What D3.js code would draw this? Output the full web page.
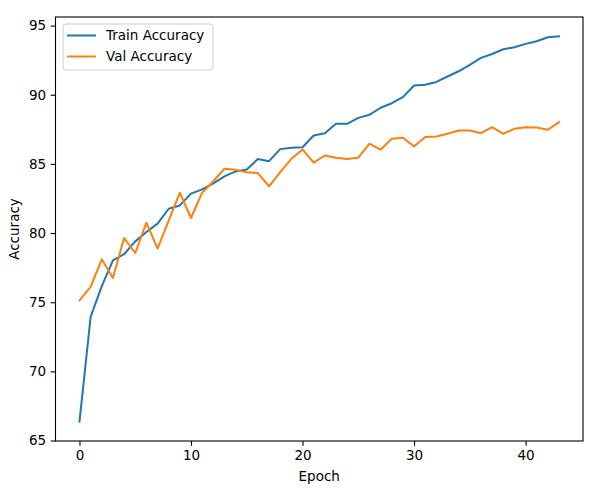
<!DOCTYPE html>
<html>
<head>
<meta charset="utf-8">
<script src="https://cdn.jsdelivr.net/npm/d3@7"></script>
<style>
  body { margin: 0; background: #fff; }
  text { font-family: "DejaVu Sans", sans-serif; fill: #000; }
</style>
</head>
<body>
<div id="chart"></div>
<script>
// values
var epochs = d3.range(0, 44);
var trainAcc = [66.36, 73.94, 76.16, 78.03, 78.47, 79.4, 80.08, 80.68, 81.76, 82.0,
  82.85, 83.16, 83.6, 84.1, 84.46, 84.6, 85.35, 85.2, 86.07, 86.17,
  86.21, 87.06, 87.22, 87.9, 87.9, 88.33, 88.55, 89.06, 89.39, 89.83,
  90.67, 90.72, 90.93, 91.32, 91.7, 92.16, 92.67, 92.95, 93.29, 93.44,
  93.68, 93.87, 94.16, 94.23];
var valAcc = [75.14, 76.11, 78.1, 76.75, 79.64, 78.56, 80.75, 78.88, 80.9, 82.92,
  81.09, 82.92, 83.75, 84.65, 84.58, 84.39, 84.34, 83.38, 84.41, 85.37,
  86.05, 85.09, 85.61, 85.45, 85.35, 85.45, 86.46, 86.03, 86.82, 86.89,
  86.26, 86.94, 86.99, 87.18, 87.42, 87.42, 87.22, 87.66, 87.18, 87.54,
  87.66, 87.64, 87.47, 88.02];
var xTicks = [0, 10, 20, 30, 40];
var yTicks = [65, 70, 75, 80, 85, 90, 95];
var seriesNames = ["Train Accuracy", "Val Accuracy"];
var seriesColors = ["#1f77b4", "#ff7f0e"];

var W = 592, H = 497;
var margin = {top: 17, right: 9, bottom: 56, left: 55.5},
    width = W - margin.left - margin.right,
    height = H - margin.top - margin.bottom;

var allVals = trainAcc.concat(valAcc);
var yMin = d3.min(allVals), yMax = d3.max(allVals);
var yPad = (yMax - yMin) * 0.05;
var xPad = (epochs[epochs.length - 1] - epochs[0]) * 0.05;

var x = d3.scaleLinear()
    .domain([epochs[0] - xPad, epochs[epochs.length - 1] + xPad])
    .range([0, width]);
var y = d3.scaleLinear()
    .domain([yMin - yPad, yMax + yPad])
    .range([height, 0]);

var svg = d3.select("#chart").append("svg")
    .attr("width", W)
    .attr("height", H)
  .append("g")
    .attr("transform", "translate(" + margin.left + "," + margin.top + ")");

// lines
var series = [trainAcc, valAcc];
series.forEach(function(vals, i) {
  var line = d3.line()
      .x(function(d, j) { return x(epochs[j]); })
      .y(function(d) { return y(d); });
  svg.append("path")
      .datum(vals)
      .attr("fill", "none")
      .attr("stroke", seriesColors[i])
      .attr("stroke-width", 2)
      .attr("stroke-linejoin", "round")
      .attr("stroke-linecap", "square")
      .attr("d", line);
});

// axes
var xAxis = svg.append("g")
    .attr("transform", "translate(0," + height + ")")
    .call(d3.axisBottom(x).tickValues(xTicks).tickSize(4.8).tickPadding(4.5));
var yAxis = svg.append("g")
    .call(d3.axisLeft(y).tickValues(yTicks).tickSize(4.8).tickPadding(4.5));
[xAxis, yAxis].forEach(function(a) {
  a.select(".domain").remove();
  a.selectAll("line").attr("stroke", "#000").attr("stroke-width", 1.1);
  a.selectAll("text").style("font-size", "13.5px").style("font-family", "DejaVu Sans, sans-serif").attr("fill", "#000");
});

// frame
svg.append("rect")
    .attr("width", width)
    .attr("height", height)
    .attr("fill", "none")
    .attr("stroke", "#000")
    .attr("stroke-width", 1.1);

// axis labels
svg.append("text")
    .attr("x", width / 2)
    .attr("y", height + 40)
    .attr("text-anchor", "middle")
    .style("font-size", "13.5px")
    .text("Epoch");
svg.append("text")
    .attr("transform", "translate(" + (-37) + "," + (height / 2) + ") rotate(-90)")
    .attr("text-anchor", "middle")
    .style("font-size", "13.5px")
    .text("Accuracy");

// legend
var legend = svg.append("g").attr("transform", "translate(7.5,7)");
legend.append("rect")
    .attr("width", 150)
    .attr("height", 46)
    .attr("rx", 3)
    .attr("fill", "#fff")
    .attr("fill-opacity", 0.8)
    .attr("stroke", "#ccc");
seriesNames.forEach(function(name, i) {
  var g = legend.append("g").attr("transform", "translate(0," + (11.5 + i * 21) + ")");
  g.append("line")
      .attr("x1", 4).attr("x2", 33)
      .attr("stroke", seriesColors[i])
      .attr("stroke-width", 2);
  g.append("text")
      .attr("x", 43)
      .attr("dy", "0.35em")
      .style("font-size", "13.5px")
      .text(name);
});
</script>
</body>
</html>
